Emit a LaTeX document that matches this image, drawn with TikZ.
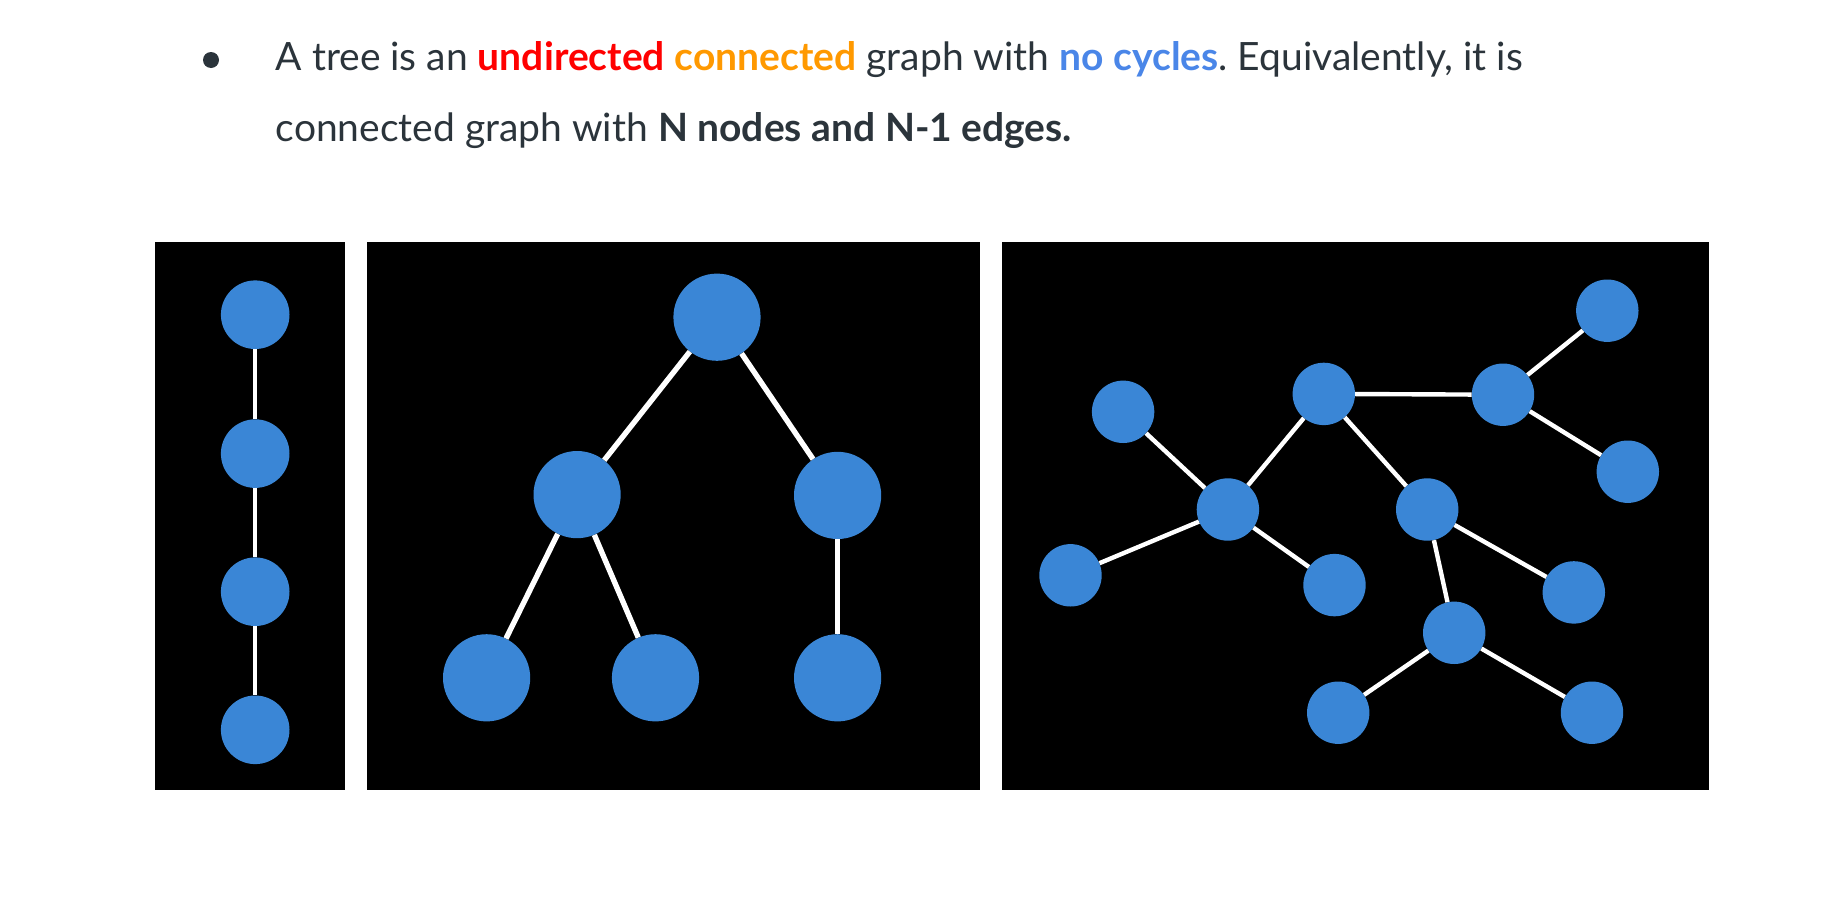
\documentclass[tikz,border=0pt]{standalone}
\usepackage{fontspec}
\setmainfont{Lato}
\usepackage{xcolor}
\usepackage{tikz}
\usetikzlibrary{positioning}
\frenchspacing
\definecolor{ink}{RGB}{43,52,59}
\definecolor{hotred}{RGB}{255,0,0}
\definecolor{amber}{RGB}{255,153,0}
\definecolor{skyblue}{RGB}{74,134,232}
\definecolor{nodeblue}{RGB}{58,134,214}
\tikzset{
  panel/.style={fill=black,draw=none},
  vertex/.style={circle,fill=nodeblue,draw=none,inner sep=0pt},
  pathnode/.style={vertex,minimum size=68.6pt},
  bignode/.style={vertex,minimum size=87.2pt},
  smallnode/.style={vertex,minimum size=62.4pt},
  link/.style={white,line width=4.4pt},
  thicklink/.style={white,line width=5.4pt},
  textline/.style={anchor=base west,inner sep=0pt,text=ink,
    font=\fontsize{39}{47}\selectfont}
}

\begin{document}
\begin{tikzpicture}[x=1pt,y=-1pt]
  \useasboundingbox[fill=white] (0,0) rectangle (1838,897);
  % bullet text
  \node[circle,fill=ink,inner sep=0pt,minimum size=16pt] (bullet) at (211,60) {};
  \node[textline] (line1) at (275.5,70.7)
    {A tree is an \textbf{\textcolor{hotred}{undirected}} \textbf{\textcolor{amber}{connected}} graph with \textbf{\textcolor{skyblue}{no cycles}}. Equivalently, it is};
  \node[textline] (line2) at (275.5,141.7)
    {connected graph with \textbf{N nodes and N-1 edges.}};
  % panels
  \fill[panel] (155.4,242) rectangle (344.6,789.8);
  \fill[panel] (366.5,242) rectangle (980.2,789.8);
  \fill[panel] (1001.6,242) rectangle (1709.3,789.8);
  % path
  \foreach \n/\y in {1/314.7,2/453.6,3/591.7,4/729.8}
    \node[pathnode] (p\n) at (255.2,\y) {};
  \foreach \a/\b in {1/2,2/3,3/4}
    \draw[link] (p\a) -- (p\b);
  % rooted tree
  \node[bignode] (root) at (717,317.2) {};
  \node[bignode] (midl) at (577.1,494.6) {};
  \node[bignode] (midr) at (837.6,495.4) {};
  \node[bignode] (botl) at (486.6,677.8) {};
  \node[bignode] (botm) at (655.5,677.8) {};
  \node[bignode] (botr) at (837.6,677.8) {};
  \foreach \a/\b in {root/midl,root/midr,midl/botl,midl/botm,midr/botr}
    \draw[thicklink] (\a) -- (\b);
  % free tree
  \foreach \n/\x/\y in {a/1607.3/310.7,b/1123.1/411.8,c/1323.8/393.9,d/1503/394.7,
      e/1627.8/471.7,f/1227.9/509.5,g/1427.2/509.5,h/1070.5/575.3,i/1334.5/585.1,
      j/1573.8/592.4,k/1454.2/632.8,l/1338.2/712.7,m/1592/712.7}
    \node[smallnode] (\n) at (\x,\y) {};
  \foreach \a/\b in {a/d,c/d,d/e,b/f,c/f,c/g,f/h,f/i,g/j,g/k,k/l,k/m}
    \draw[link] (\a) -- (\b);
\end{tikzpicture}
\end{document}
